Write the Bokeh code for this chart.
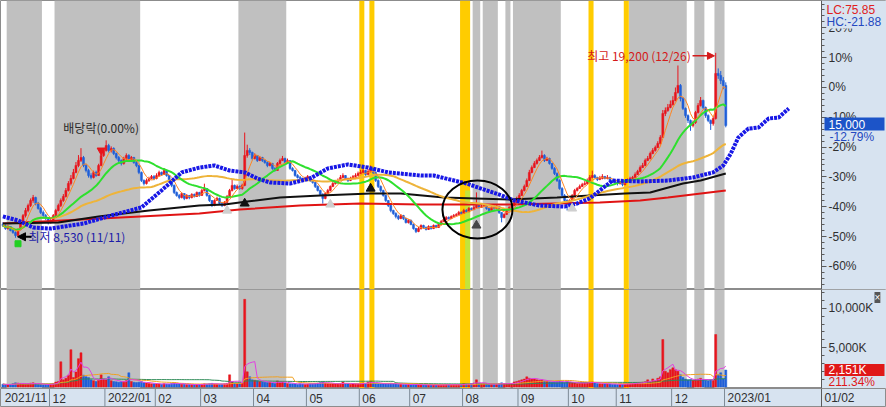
import numpy as np
import pandas as pd
from bokeh.plotting import figure
from bokeh.layouts import column
from bokeh.models import Range1d, FixedTicker, Label, Arrow, NormalHead, BoxAnnotation, ColumnDataSource, Span
from bokeh.embed import file_html
from bokeh.resources import INLINE
from bokeh.core.properties import value

# ---------------- data ----------------
START, END = "2021-11-04", "2023-01-02"
HOLIDAYS = ["2021-12-31", "2022-01-31", "2022-02-01", "2022-02-02", "2022-03-01", "2022-03-09",
            "2022-05-05", "2022-06-01", "2022-06-06", "2022-08-15", "2022-09-09", "2022-09-12",
            "2022-10-03", "2022-10-10", "2022-12-30"]

closes = (
    [9240, 9060, 9180, 8950, 8830, 8660, 9000, 9410, 9810, 10100, 10390, 10680, 10850, 10510, 10220, 9990, 9810, 9640, 9410] +
    [9530, 9810, 10100, 10390, 10680, 10910, 11260, 11660, 11950, 12300, 12700, 12990, 13160, 12700, 12410, 12120, 12010, 12300, 12120, 12700, 13280, 13570] +
    [13850, 13570, 13680, 13390, 13160, 12990, 12820, 13100, 13280, 12990, 13160, 12870, 12700, 12300, 11830, 11660, 11830, 11950, 12060, 11950] +
    [12120, 12300, 12180, 12410, 12120, 11830, 11550, 11140, 10970, 10850, 11080, 10800, 10970, 10850, 11030, 10910, 11140, 10970] +
    [11260, 11370, 10970, 10680, 10390, 10680, 10800, 10510, 10390, 10570, 10910, 11260, 11550, 11370, 11490, 11370, 11550, 13280, 13570, 13450, 13100] +
    [13280, 12990, 13160, 12990, 12870, 12700, 12820, 12530, 12410, 12820, 12990, 13100, 12870, 12990, 12530, 12410, 12120, 12010, 11950, 11830, 11950] +
    [12060, 11830, 11720, 11490, 11260, 11030, 10800, 11080, 11260, 11490, 11660, 11720, 11830, 12010, 12120, 11950, 11830, 11950, 12060, 12120, 12240] +
    [12300, 12410, 12180, 12350, 12530, 12300, 11830, 11490, 11260, 10970, 10680, 10390, 10100, 9930, 9760, 9640, 9810, 9640, 9410, 9530] +
    [9300, 9060, 8890, 9060, 9240, 9120, 9010, 9180, 9060, 9240, 9120, 9300, 9470, 9580, 9700, 9640, 9760, 9810, 9870, 9990, 9930] +
    [10100, 10040, 10220, 10160, 10280, 10390, 10280, 10330, 10390, 10220, 10100, 10280, 10220, 10330, 9990, 9700, 9870, 10100, 10280, 10390, 10570, 10800] +
    [10970, 11260, 11490, 11830, 12300, 12580, 12820, 12990, 13160, 13280, 12990, 13100, 12820, 12530, 12240, 11830, 11370, 10970, 10680, 10450] +
    [10680, 10970, 11260, 11370, 11490, 11600, 11660, 11830, 12010, 12120, 12010, 11890, 11950, 12060, 11950, 12010, 11830, 11780, 11720] +
    [11660, 11720, 11600, 11780, 11830, 11950, 12010, 12180, 12350, 12580, 12700, 12990, 13100, 13390, 13570, 13740, 13970, 14320, 15700, 15870, 16050, 16220] +
    [16450, 16910, 17320, 16570, 15990, 15580, 15300, 15010, 15180, 15760, 16160, 16450, 16050, 15580, 15300, 15120, 15410, 18010, 17890, 17600, 17320] +
    [15000]
)

opens = (
    [9300, 9240, 9060, 9180, 8950, 8830, 8660, 9000, 9410, 9810, 10100, 10390, 10680, 10850, 10510, 10220, 9990, 9810, 9640] +
    [9410, 9530, 9810, 10100, 10390, 10680, 10910, 11260, 11660, 11950, 12300, 12700, 12990, 13160, 12700, 12410, 12120, 12010, 12300, 12120, 12700, 13280] +
    [13570, 13850, 13570, 13680, 13390, 13160, 12990, 12820, 13100, 13280, 12990, 13160, 12870, 12700, 12300, 11830, 11660, 11830, 11950, 12060] +
    [11950, 12120, 12300, 12180, 12410, 12120, 11830, 11550, 11140, 10970, 10850, 11080, 10800, 10970, 10850, 11030, 10910, 11140] +
    [10970, 11260, 11370, 10970, 10680, 10390, 10680, 10800, 10510, 10390, 10570, 10910, 11260, 11550, 11370, 11490, 11370, 11550, 13280, 13570, 13450] +
    [13100, 13280, 12990, 13160, 12990, 12870, 12700, 12820, 12530, 12410, 12820, 12990, 13100, 12870, 12990, 12530, 12410, 12120, 12010, 11950, 11830] +
    [11950, 12060, 11830, 11720, 11490, 11260, 11030, 10800, 11080, 11260, 11490, 11660, 11720, 11830, 12010, 12120, 11950, 11830, 11950, 12060, 12120] +
    [12240, 12300, 12410, 12180, 12350, 12530, 12300, 11830, 11490, 11260, 10970, 10680, 10390, 10100, 9930, 9760, 9640, 9810, 9640, 9410] +
    [9530, 9300, 9060, 8890, 9060, 9240, 9120, 9010, 9180, 9060, 9240, 9120, 9300, 9470, 9580, 9700, 9640, 9760, 9810, 9870, 9990] +
    [9930, 10100, 10040, 10220, 10160, 10280, 10390, 10280, 10330, 10390, 10220, 10100, 10280, 10220, 10330, 9990, 9700, 9870, 10100, 10280, 10390, 10570] +
    [10800, 10970, 11260, 11490, 11830, 12300, 12580, 12820, 12990, 13160, 13280, 12990, 13100, 12820, 12530, 12240, 11830, 11370, 10970, 10680] +
    [10450, 10680, 10970, 11260, 11370, 11490, 11600, 11660, 11830, 12010, 12120, 12010, 11890, 11950, 12060, 11950, 12010, 11830, 11780] +
    [11720, 11660, 11720, 11600, 11780, 11830, 11950, 12010, 12180, 12350, 12580, 12700, 12990, 13100, 13390, 13570, 13740, 13970, 14320, 15700, 15870, 16050] +
    [16220, 16450, 16910, 17320, 16570, 15990, 15580, 15300, 15010, 15180, 15760, 16160, 16450, 16050, 15580, 15300, 15120, 15410, 18010, 17890, 17600] +
    [17320]
)

highs = (
    [9420, 9300, 9260, 9200, 9000, 8900, 9080, 9500, 9900, 10250, 10500, 10800, 11000, 10900, 10600, 10300, 10100, 9900, 9700] +
    [9650, 9900, 10200, 10500, 10800, 11050, 11400, 11800, 12150, 12500, 12900, 13300, 13700, 13250, 12800, 12500, 12250, 12400, 12400, 12800, 13400, 13700] +
    [14150, 13950, 13800, 13750, 13450, 13250, 13050, 13200, 13400, 13350, 13250, 13200, 12950, 12750, 12350, 11900, 11950, 12050, 12150, 12150] +
    [12250, 12400, 12350, 12550, 12450, 12150, 11900, 11600, 11200, 11050, 11150, 11100, 11050, 11000, 11100, 11080, 11200, 11180] +
    [11350, 11650, 11400, 11000, 10700, 10750, 10900, 10850, 10600, 10650, 11000, 11350, 11900, 11600, 11600, 11550, 11650, 14600, 13900, 13700, 13500] +
    [13400, 13300, 13250, 13200, 13050, 12950, 12900, 12850, 12600, 12900, 13100, 13250, 13150, 13100, 13000, 12600, 12450, 12200, 12100, 12000, 12050] +
    [12150, 12100, 11900, 11750, 11550, 11300, 11100, 11150, 11350, 11550, 11750, 11850, 11950, 12150, 12250, 12150, 12000, 12050, 12150, 12250, 12350] +
    [12450, 12650, 12450, 12500, 12700, 12550, 12350, 11900, 11550, 11300, 11000, 10700, 10450, 10150, 10000, 9850, 9900, 9850, 9700, 9600] +
    [9580, 9350, 9100, 9150, 9300, 9280, 9180, 9250, 9220, 9300, 9280, 9380, 9550, 9650, 9780, 9760, 9820, 9900, 9950, 10080, 10050] +
    [10200, 10180, 10300, 10280, 10400, 11150, 10450, 10420, 10480, 10420, 10250, 10350, 10330, 10400, 10350, 10000, 9950, 10180, 10350, 10480, 10650, 10900] +
    [11100, 11350, 11600, 11950, 12450, 12700, 12950, 13100, 13300, 13560, 13350, 13200, 13150, 12850, 12600, 12300, 11900, 11450, 11050, 10750] +
    [10750, 11050, 11350, 11450, 11600, 11700, 11800, 11950, 12150, 12400, 12200, 12050, 12100, 12200, 12100, 12150, 12050, 11900, 11850] +
    [11800, 11800, 11750, 11850, 11950, 12050, 12100, 12300, 12450, 12700, 12850, 13100, 13250, 13500, 13700, 13850, 14100, 14450, 15900, 16050, 16250, 16450] +
    [16700, 17200, 18470, 17400, 16650, 16050, 15650, 15350, 15300, 15850, 16300, 16650, 16500, 16100, 15650, 15350, 15500, 19200, 18300, 18150, 17800] +
    [17500]
)

lows = (
    [9150, 8990, 9000, 8900, 8760, 8530, 8620, 8960, 9350, 9700, 10000, 10300, 10550, 10400, 10150, 9900, 9720, 9550, 9300] +
    [9350, 9480, 9750, 10050, 10300, 10600, 10850, 11200, 11550, 11900, 12250, 12600, 12900, 12600, 12300, 12000, 11900, 11950, 12050, 12100, 12650, 13200] +
    [13500, 13450, 13450, 13300, 13050, 12900, 12700, 12750, 13000, 12900, 12900, 12800, 12600, 12200, 11750, 11550, 11600, 11750, 11900, 11850] +
    [11900, 12050, 12100, 12150, 12050, 11750, 11450, 11050, 10900, 10750, 10800, 10700, 10750, 10750, 10800, 10850, 10880, 10900] +
    [10950, 11200, 10900, 10600, 10300, 10350, 10650, 10450, 10300, 10350, 10550, 10850, 11200, 11300, 11350, 11300, 11300, 11500, 13150, 13300, 13000] +
    [13050, 12900, 12950, 12900, 12800, 12600, 12650, 12450, 12350, 12400, 12750, 12950, 12800, 12850, 12450, 12350, 12050, 11950, 11850, 11750, 11800] +
    [11900, 11750, 11650, 11400, 11200, 10950, 10500, 10750, 11050, 11200, 11450, 11600, 11700, 11800, 11950, 11900, 11750, 11800, 11900, 12000, 12100] +
    [12200, 12250, 12100, 12150, 12300, 12200, 11750, 11400, 11150, 10900, 10600, 10300, 10000, 9850, 9650, 9550, 9600, 9550, 9350, 9350] +
    [9250, 9000, 8800, 8850, 9000, 9050, 8950, 8980, 9000, 9030, 9080, 9100, 9280, 9430, 9550, 9580, 9600, 9720, 9780, 9830, 9880] +
    [9900, 9980, 10000, 10100, 10120, 10250, 10220, 10250, 10300, 10150, 10050, 10080, 10150, 10180, 9900, 9420, 9650, 9850, 10050, 10250, 10350, 10550] +
    [10750, 10950, 11200, 11450, 11800, 12250, 12550, 12750, 12950, 13100, 12900, 12950, 12750, 12450, 12150, 11750, 11300, 10900, 10600, 10100] +
    [10400, 10650, 10950, 11200, 11350, 11450, 11550, 11600, 11800, 11950, 11950, 11800, 11850, 11900, 11900, 11900, 11750, 11700, 11650] +
    [11550, 11600, 11500, 11550, 11750, 11800, 11900, 11950, 12150, 12300, 12550, 12650, 12950, 13050, 13350, 13500, 13700, 13900, 14300, 15550, 15800, 16000] +
    [16150, 16400, 16850, 16400, 15900, 15450, 15150, 14700, 14900, 15100, 15700, 16100, 15950, 15450, 15200, 14750, 15000, 15350, 17700, 17400, 17100] +
    [14900]
)

# volume in thousands of shares
volumes = (
    [350, 300, 280, 320, 400, 520, 480, 450, 380, 350, 420, 480, 520, 400, 350, 300, 280, 300, 320] +
    [380, 450, 620, 700, 3200, 900, 1100, 1500, 4740, 1200, 1900, 3600, 4350, 1500, 1300, 1200, 900, 800, 700, 850, 1540, 1000] +
    [900, 1300, 800, 700, 650, 600, 700, 650, 800, 1800, 700, 600, 550, 600, 700, 550, 500, 450, 420, 400] +
    [400, 380, 350, 420, 380, 360, 450, 500, 420, 380, 350, 330, 300, 320, 300, 280, 300, 320] +
    [350, 400, 380, 420, 450, 380, 350, 330, 360, 400, 450, 1540, 700, 500, 450, 420, 480, 11150, 1920, 1300, 900] +
    [850, 800, 700, 650, 600, 550, 600, 500, 450, 770, 600, 650, 500, 450, 400, 420, 380, 350, 400, 380, 350] +
    [380, 400, 420, 450, 500, 550, 650, 500, 450, 420, 400, 380, 400, 450, 640, 420, 380, 350, 380, 400, 420] +
    [450, 500, 480, 640, 700, 500, 450, 420, 400, 380, 400, 420, 450, 400, 380, 350, 330, 300, 320, 300] +
    [280, 300, 320, 280, 260, 250, 240, 260, 250, 240, 230, 250, 260, 280, 300, 280, 260, 270, 290, 300, 320] +
    [400, 380, 350, 420, 500, 900, 450, 400, 380, 350, 330, 350, 340, 360, 400, 520, 420, 380, 400, 450, 640, 700] +
    [800, 900, 1000, 1280, 1100, 1000, 1020, 900, 850, 900, 770, 700, 650, 600, 650, 700, 770, 650, 600, 700] +
    [600, 550, 500, 450, 480, 500, 520, 550, 600, 640, 500, 450, 420, 400, 380, 400, 380, 350, 330] +
    [300, 320, 350, 380, 400, 420, 450, 500, 520, 550, 600, 650, 900, 700, 1020, 800, 1100, 1280, 6030, 2000, 1800, 2200] +
    [2430, 2200, 2000, 1540, 1200, 1000, 900, 950, 850, 900, 1000, 1100, 900, 850, 800, 900, 850, 6670, 1540, 1800, 1017.8] +
    [2151]
)

# long moving averages (need history before the window), read at anchor bars
ma120_bar = [0, 22, 38, 58, 78, 88, 97, 110, 126, 146, 158, 175, 201, 220, 233, 247, 257, 270, 277, 287]
ma120_val = [9350, 9410, 9760, 10100, 10390, 10450, 10620, 10850, 10970, 11080, 11080, 10850, 10740, 10850, 10970, 11080, 11140, 11660, 11830, 12240]
ma240_bar = [0, 39, 78, 94, 118, 142, 166, 201, 237, 253, 264, 287]
ma240_val = [9350, 9640, 9930, 10160, 10390, 10510, 10450, 10450, 10570, 10680, 10850, 11260]
lead_bar = [0, 6, 12, 19, 32, 43, 55, 63, 71, 78, 84, 90, 96, 101, 106, 114, 122, 129, 137, 145, 153,
            166, 171, 184, 198, 203, 213, 223, 228, 233, 242, 253, 264, 274, 282, 286, 289, 292, 296, 300,
            304, 308, 312]
lead_val = [9760, 9530, 9120, 9060, 9350, 9810, 10280, 11260, 12300, 12580, 12700, 12410, 12300, 11950, 11720,
            11660, 11950, 12530, 12760, 12580, 12300, 12120, 12120, 11660, 10970, 10680, 10390, 10330, 10510,
            10800, 11830, 11780, 11830, 12010, 12300, 12700, 13390, 14320, 14830, 14890, 15410, 15470, 15990]

# signal periods (first bar, last bar)
gray_periods = [(2, 15), (21, 54), (94, 112), (187, 189), (191, 196), (200, 201), (203, 221), (249, 271), (275, 278), (283, 286)]
yellow_periods = [(142, 143), (146, 147), (182, 185), (233, 234), (247, 248)]
green_period = (184, 185)
green_top = 11260

# signal markers
buy_bar = [96, 146]
buy_val = [10510, 11370]
dark_bar = [188]
dark_val = [9240]
pale_bar = [89, 130, 226]
pale_val = [10100, 10450, 10220]
div_bar = 39
circle_bar, circle_val, circle_w, circle_h = 188.4, 10160, 27.8, 3350

pct_base = 17200
pct_ticks = [20, 10, 0, -10, -20, -30, -40, -50, -60]
vol_ticks = [5000, 10000]
vol_tick_labels = ["5,000K", "10,000K"]

# ---------------- derived ----------------
n = len(closes)
bd = pd.bdate_range(START, END)
dates = [d for d in bd if d.strftime("%Y-%m-%d") not in HOLIDAYS][:n]
idx = np.arange(n)
o = np.array(opens, float); c = np.array(closes, float)
h = np.array(highs, float); l = np.array(lows, float)
v = np.array(volumes, float)

UP, DOWN = "#e8141c", "#1f5fd8"
colors = [UP if cc >= oo else DOWN for oo, cc in zip(o, c)]
src = ColumnDataSource(dict(x=idx, o=o, c=c, h=h, l=l, top=np.maximum(o, c), bot=np.minimum(o, c),
                            color=colors, vol=v))
s = pd.Series(c)
ma5 = s.rolling(5, min_periods=1).mean()
ma20 = s.rolling(20, min_periods=1).mean()
ma60 = s.rolling(60, min_periods=1).mean()
vs = pd.Series(v)
vma5 = vs.rolling(5, min_periods=1).mean()
vma20 = vs.rolling(20, min_periods=1).mean()
vma60 = vs.rolling(60, min_periods=1).mean()

W, STRIP_W = 886, 65
FW = W - STRIP_W
H_P, H_V, H_X = 289, 99, 19
STRIP = "#d7e3f0"
GRAY, YELLOW, LGREEN = "#c0c0c0", "#ffcc00", "#c2e43c"
FONT = "Liberation Sans"
KFONT = "Noto Sans CJK KR"
P_LO, P_HI = 5544, 22220
V_LO, V_HI = -200, 12400

X0, X_DATA_END = -0.953, 325.0          # data area spans the left FW pixels
per_px = (X_DATA_END - X0) / FW
X1 = X_DATA_END + STRIP_W * per_px      # the right strip lives inside the frame
xr = Range1d(X0, X1)


def base_fig(height, yr):
    f = figure(width=W, height=height, x_range=xr, y_range=yr, output_backend="svg",
               toolbar_location=None, x_axis_location=None, y_axis_location="right",
               min_border_left=0, min_border_right=0, min_border_top=0, min_border_bottom=0,
               background_fill_color="white", border_fill_color=STRIP, outline_line_color="#8c8c8c")
    f.grid.visible = False
    f.add_layout(BoxAnnotation(left=X_DATA_END, fill_color=STRIP, fill_alpha=1, line_color=None,
                               level="underlay"))
    return f


def style_axis(ax):
    ax.fixed_location = X_DATA_END
    ax.axis_line_color = "#5a5a5a"
    ax.major_tick_line_color = "#5a5a5a"
    ax.minor_tick_line_color = "#5a5a5a"
    ax.major_tick_in = 0
    ax.major_tick_out = 5
    ax.minor_tick_in = 0
    ax.minor_tick_out = 3
    ax.major_label_standoff = 2
    ax.major_label_text_font = FONT
    ax.major_label_text_font_size = "12px"
    ax.major_label_text_color = "#303030"


def add_bands(f, price_panel):
    for a, b in gray_periods:
        f.add_layout(BoxAnnotation(left=a - 0.5, right=b + 0.5, fill_color=GRAY, fill_alpha=1,
                                   line_color=None, level="underlay"))
    for a, b in yellow_periods:
        f.add_layout(BoxAnnotation(left=a - 0.5, right=b + 0.5, fill_color=YELLOW, fill_alpha=1,
                                   line_color=None, level="underlay"))
    if price_panel:
        a, b = green_period
        f.add_layout(BoxAnnotation(left=a - 0.5, right=b + 0.5, top=green_top, fill_color=LGREEN,
                                   fill_alpha=1, line_color=None, level="underlay"))


def strip_label(f, y, text, color, y_units="data", y_offset=0, dx=5, size="12px", bg=None):
    f.add_layout(Label(x=X_DATA_END, x_offset=dx, y=y, y_units=y_units, y_offset=y_offset, text=text,
                       text_baseline="middle", text_font=FONT, text_font_size=size, text_color=color,
                       background_fill_color=bg))


def strip_tag(f, y, half_h, color):
    # coloured tag spanning the right strip, centred on a data value
    f.add_layout(BoxAnnotation(left=X_DATA_END + 3 * per_px, right=X1 - 2 * per_px,
                               bottom=y - half_h, top=y + half_h, fill_color=color, fill_alpha=1,
                               line_color=None, level="annotation"))


# ---------------- price panel ----------------
p = base_fig(H_P, Range1d(P_LO, P_HI))
add_bands(p, True)
tick_vals = [int(round(pct_base * (100 + t) / 100)) for t in pct_ticks]
minor_vals = [int(round(pct_base * (100 + k) / 100)) for k in range(-68, 32, 2)]
ax = p.yaxis[0]
ax.ticker = FixedTicker(ticks=tick_vals, minor_ticks=minor_vals)
ax.major_label_overrides = {tv: f"{t}%" for tv, t in zip(tick_vals, pct_ticks)}
style_axis(ax)

p.segment(x0="x", y0="l", x1="x", y1="h", color="color", line_width=1, source=src)
p.vbar(x="x", width=0.8, top="top", bottom="bot", fill_color="color", line_color="color",
       line_width=0.5, source=src)

p.line(ma240_bar, ma240_val, color="#e01414", line_width=2)
p.line(ma120_bar, ma120_val, color="#111111", line_width=2)
p.line(idx, ma60, color="#eeb43a", line_width=2)
p.line(idx, ma20, color="#2ee02e", line_width=2)
p.line(idx, ma5, color="#ff8420", line_width=1)
p.line(lead_bar, lead_val, color="#1717e6", line_width=4, line_dash="3 1")

p.ellipse(x=[circle_bar], y=[circle_val], width=circle_w, height=circle_h, fill_color=None,
          line_color="black", line_width=2)

p.scatter(buy_bar, buy_val, marker="triangle", size=9, color="#111111")
p.scatter(dark_bar, dark_val, marker="triangle", size=9, color="#474747")
p.scatter(pale_bar, pale_val, marker="triangle", size=9, color="#cfcfcf")

low_i = int(np.argmin(l)); high_i = int(np.argmax(h))
ppx = (P_HI - P_LO) / H_P
vpx = (V_HI - V_LO) / H_V
p.scatter([low_i + 1.0], [l[low_i] - 6 * ppx], marker="square", size=6, color="#22d022")
p.scatter([div_bar], [h[div_bar] + 3 * ppx], marker="inverted_triangle", size=8, color="#e8141c")

p.add_layout(Label(x=div_bar, y=h[div_bar], y_offset=26, text="배당락(0.00%)", text_align="center",
                   text_baseline="middle", text_font=KFONT, text_font_size="12px", text_color="#2a2a2a"))
p.add_layout(Label(x=low_i, y=l[low_i], x_offset=13, y_offset=1,
                   text=f"최저 {l[low_i]:,.0f} ({dates[low_i]:%m/%d})",
                   text_baseline="middle", text_font=KFONT, text_font_size="12px", text_color="#1c1ca8"))
p.add_layout(Arrow(end=NormalHead(size=8, fill_color="black", line_color="black"),
                   x_start=low_i + 6.3, y_start=l[low_i] + ppx, x_end=low_i + 0.8, y_end=l[low_i] + ppx,
                   line_color="black", line_width=2))
p.add_layout(Label(x=high_i, y=h[high_i], x_offset=-25, y_offset=-3, text_align="right",
                   text=f"최고 {h[high_i]:,.0f} ({dates[high_i]:%m/%d})",
                   text_baseline="middle", text_font=KFONT, text_font_size="12px", text_color="#d41a1a"))
p.add_layout(Arrow(end=NormalHead(size=7, fill_color="#d41a1a", line_color="#d41a1a"),
                   x_start=high_i - 9.2, y_start=h[high_i] - 3 * ppx, x_end=high_i - 0.5,
                   y_end=h[high_i] - 3 * ppx, line_color="#d41a1a", line_width=1.5))

last = c[-1]
lc = (last / l.min() - 1) * 100
hc = (last / h.max() - 1) * 100
pct_last = (last / pct_base - 1) * 100
strip_label(p, H_P - 9, f"LC:{lc:.2f}", "#e02020", y_units="screen", bg=STRIP)
strip_label(p, H_P - 21, f"HC:{hc:.2f}", "#2448c0", y_units="screen", bg=STRIP)
strip_tag(p, last + 1.5 * ppx, 6.5 * ppx, "#1c54c8")
strip_label(p, last, f"{last:,.0f}", "white", y_offset=1.5, dx=7)
strip_label(p, last, f"{pct_last:.2f}%", "#2448c0", y_offset=-11, dx=8)

# ---------------- volume panel ----------------
pv = base_fig(H_V, Range1d(V_LO, V_HI))
add_bands(pv, False)
vax = pv.yaxis[0]
vax.ticker = FixedTicker(ticks=vol_ticks, minor_ticks=list(range(1000, 13000, 1000)))
vax.major_label_overrides = {t: s_ for t, s_ in zip(vol_ticks, vol_tick_labels)}
style_axis(vax)
pv.vbar(x="x", width=0.8, top="vol", bottom=0, fill_color="color", line_color="color",
        line_width=0.5, source=src)
pv.line(idx, vma60, color="#2e8b57", line_width=1)
pv.line(idx, vma20, color="#f0a020", line_width=1)
pv.line(idx, vma5, color="#e040e0", line_width=1)
vratio = v[-1] / v[-2] * 100
strip_tag(pv, v[-1], 6 * vpx, "#e01818")
strip_label(pv, v[-1], f"{v[-1]:,.0f}K", "white", dx=7)
strip_label(pv, v[-1], f"{vratio:.2f}%", "#e01818", y_offset=-12, dx=7)
strip_label(pv, H_V - 8, "×", "white", y_units="screen", dx=53, size="10px", bg="#555555")

# ---------------- date strip ----------------
px = figure(width=W, height=H_X, x_range=xr, y_range=Range1d(0, 1), output_backend="svg",
            toolbar_location=None, x_axis_location=None, y_axis_location=None,
            min_border_left=0, min_border_right=0, min_border_top=0, min_border_bottom=0,
            background_fill_color=STRIP, border_fill_color=STRIP, outline_line_color="#8c8c8c")
px.grid.visible = False
month_edges, month_labels = [], []
prev = None
for i, d in enumerate(dates):
    key = (d.year, d.month)
    if key != prev:
        month_edges.append(i - 0.5)
        month_labels.append(f"{d.year}/{d.month:02d}" if (prev is None or d.month == 1) else f"{d.month:02d}")
        prev = key
px.segment(x0=month_edges[1:], y0=[0] * (len(month_edges) - 1), x1=month_edges[1:],
           y1=[1] * (len(month_edges) - 1), color="#7d8a96", line_width=1)
px.add_layout(Span(location=X_DATA_END, dimension="height", line_color="#5a5a5a", line_width=1))
px.text(x=month_edges + [X_DATA_END], y=[0.5] * (len(month_edges) + 1),
        text=month_labels + [f"{dates[-1]:%m/%d}"], x_offset=3,
        text_baseline="middle", text_font=value(FONT), text_font_size="12px", text_color="#303030")

layout = column(p, pv, px)
open("out.html", "w").write(file_html(layout, INLINE))
